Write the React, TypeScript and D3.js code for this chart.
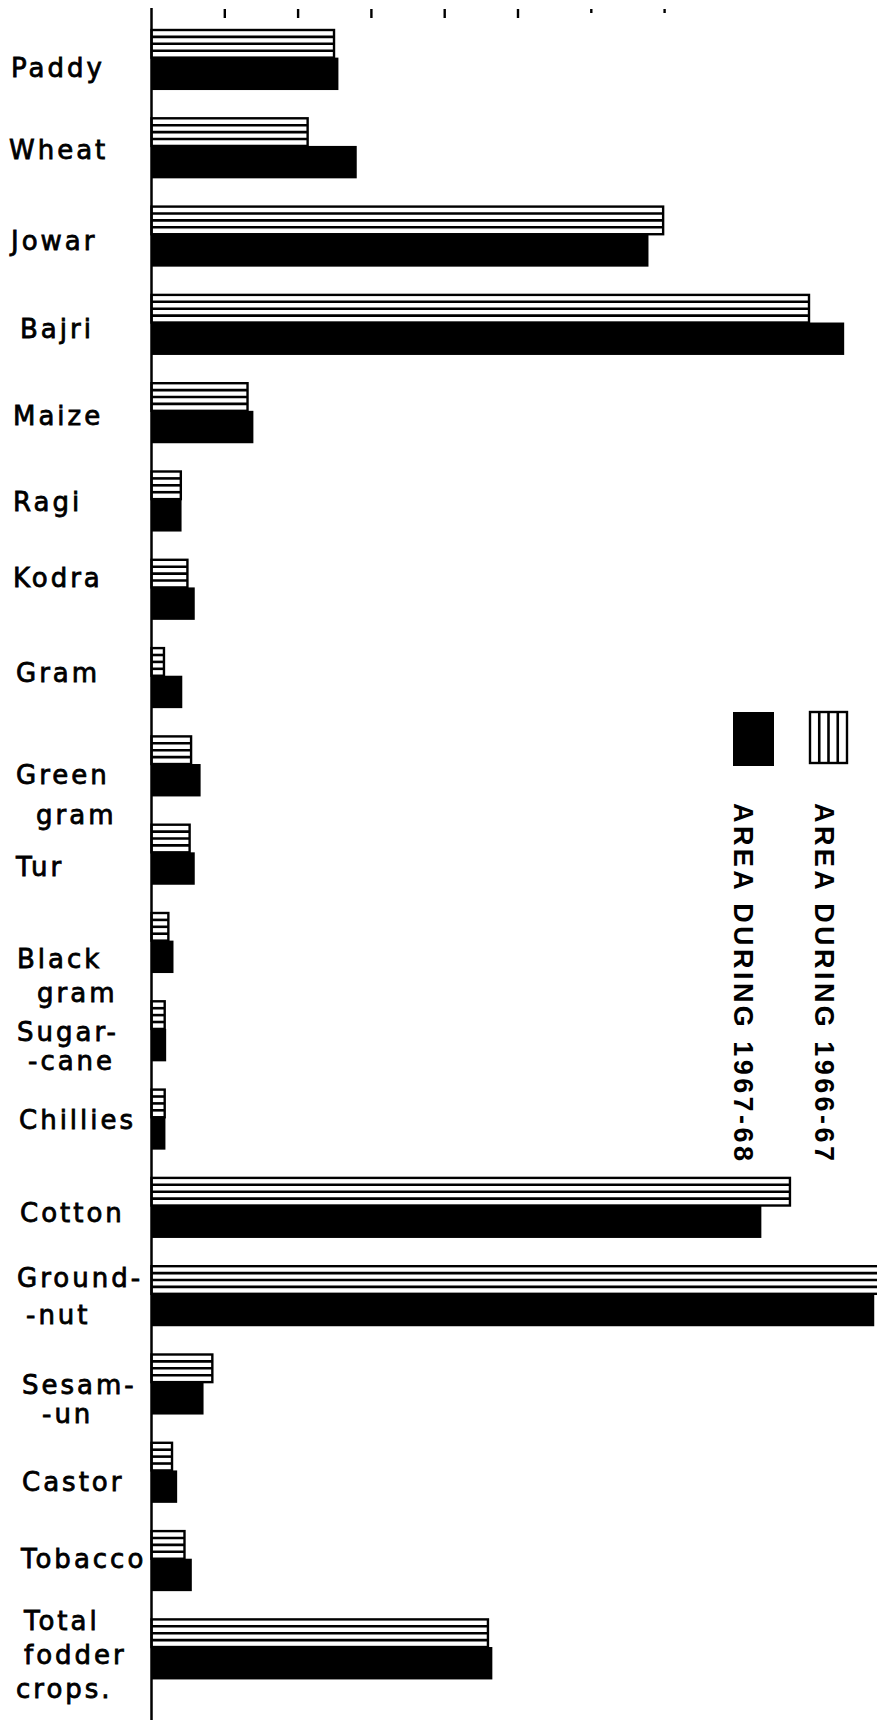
import React, { useEffect, useRef } from 'react';
import * as d3 from 'd3';

// crops, top to bottom
const crops = [
  'Paddy', 'Wheat', 'Jowar', 'Bajri', 'Maize', 'Ragi', 'Kodra', 'Gram',
  'Green gram', 'Tur', 'Black gram', 'Sugarcane', 'Chillies', 'Cotton',
  'Groundnut', 'Sesamum', 'Castor', 'Tobacco', 'Total fodder crops',
];

// how the names are lettered on the sheet
const cropLabels = [
  ['Paddy'], ['Wheat'], ['Jowar'], ['Bajri'], ['Maize'], ['Ragi'], ['Kodra'], ['Gram'],
  ['Green', 'gram'], ['Tur'], ['Black', 'gram'], ['Sugar-', '-cane'], ['Chillies'], ['Cotton'],
  ['Ground-', '-nut'], ['Sesam-', '-un'], ['Castor'], ['Tobacco'], ['Total', 'fodder', 'crops.'],
];

// area, in divisions of the top scale
const area1966 = [2.49, 2.13, 6.98, 8.97, 1.31, 0.40, 0.49, 0.17, 0.54, 0.52, 0.23, 0.18, 0.18, 8.71, 9.92, 0.83, 0.28, 0.45, 4.59];
const area1967 = [2.55, 2.80, 6.78, 9.45, 1.39, 0.41, 0.59, 0.42, 0.67, 0.59, 0.30, 0.20, 0.19, 8.32, 9.86, 0.71, 0.35, 0.55, 4.65];

const tickValues = [1, 2, 3, 4, 5, 6, 7];
const legendLabels = ['AREA  DURING  1966-67', 'AREA  DURING  1967-68'];

const App = () => {
  const chartRef = useRef<SVGSVGElement>(null);

  useEffect(() => {
    const svg = d3.select(chartRef.current);
    svg.selectAll('*').remove();

    const x = d3.scaleLinear().domain([0, 10]).range([151.5, 151.5 + 733]);
    const step = 88.3;
    const y = d3.scaleBand()
      .domain(crops)
      .range([30, 30 + step * (crops.length - 0.32)])
      .paddingInner(0.32)
      .paddingOuter(0);
    const bw = y.bandwidth();
    const hH = bw * 0.46; // hatched part of each pair

    const rows = crops.map((c, i) => ({ crop: c, a: area1966[i], b: area1967[i], label: cropLabels[i] }));

    // hand-lettered names sit a bit off the bar centres
    const nudge: Record<string, { dy: number; x?: number; lh?: number; ind?: number[] }> = {
      'Paddy': { dy: 8, x: 11 }, 'Wheat': { dy: 2, x: 9 }, 'Jowar': { dy: 4, x: 11 }, 'Bajri': { dy: 4, x: 20 },
      'Maize': { dy: 3 }, 'Ragi': { dy: 0 }, 'Kodra': { dy: -12 }, 'Gram': { dy: -5, x: 16 },
      'Green gram': { dy: 9, x: 16, lh: 40, ind: [0, 20] }, 'Tur': { dy: 12, x: 16 },
      'Black gram': { dy: 16, x: 17, lh: 34, ind: [0, 20] },
      'Sugarcane': { dy: 1, x: 17, lh: 29, ind: [0, 11] }, 'Chillies': { dy: 0, x: 19 }, 'Cotton': { dy: 5, x: 20 },
      'Groundnut': { dy: -18, x: 17, lh: 37, ind: [0, 9] }, 'Sesamum': { dy: 0, x: 22, lh: 29, ind: [0, 20] },
      'Castor': { dy: 9, x: 22 },
      'Tobacco': { dy: -2, x: 21 }, 'Total fodder crops': { dy: -28, x: 24, lh: 34, ind: [0, 0, -8] },
    };

    // hatched bars (1966-67)
    const hatch = svg.append('g').selectAll('g').data(rows).join('g');
    hatch.append('rect')
      .attr('x', x(0))
      .attr('y', d => y(d.crop)!)
      .attr('width', d => x(d.a) - x(0))
      .attr('height', hH)
      .attr('fill', '#fff')
      .attr('stroke', '#000')
      .attr('stroke-width', 2.4);
    hatch.selectAll('line')
      .data(d => [1, 2, 3].map(k => ({ d, k })))
      .join('line')
      .attr('x1', x(0))
      .attr('x2', p => x(p.d.a))
      .attr('y1', p => y(p.d.crop)! + (hH * p.k) / 4)
      .attr('y2', p => y(p.d.crop)! + (hH * p.k) / 4)
      .attr('stroke', '#000')
      .attr('stroke-width', 2.6);

    // solid bars (1967-68)
    svg.append('g').selectAll('rect').data(rows).join('rect')
      .attr('x', x(0))
      .attr('y', d => y(d.crop)! + hH)
      .attr('width', d => x(d.b) - x(0))
      .attr('height', bw - hH)
      .attr('fill', '#000');

    // axis and the little ticks along the top
    svg.append('line')
      .attr('x1', x(0)).attr('x2', x(0))
      .attr('y1', 8).attr('y2', 1720)
      .attr('stroke', '#000').attr('stroke-width', 2.5);
    svg.append('g').selectAll('line').data(tickValues).join('line')
      .attr('x1', d => x(d)).attr('x2', d => x(d))
      .attr('y1', 9).attr('y2', d => (d > 5 ? 13 : 18))
      .attr('stroke', '#000').attr('stroke-width', 2.4);

    // crop names
    const lab = svg.append('g')
      .attr('font-family', '"DejaVu Sans", sans-serif')
      .attr('font-size', 26)
      .attr('letter-spacing', 3)
      .attr('fill', '#000')
      .attr('stroke', '#000')
      .attr('stroke-width', 0.8);
    rows.forEach(r => {
      const n = nudge[r.crop] || { dy: 0 };
      const cy = y(r.crop)! + bw / 2 + n.dy;
      const x0 = n.x ?? 13;
      const lh = n.lh ?? 33;
      r.label.forEach((t, i) => {
        lab.append('text')
          .attr('x', x0 + (n.ind ? n.ind[i] : 0))
          .attr('y', cy + i * lh)
          .attr('dominant-baseline', 'central')
          .text(t);
      });
    });

    // legend, written sideways
    const leg = svg.append('g');
    leg.append('rect').attr('x', 733).attr('y', 712).attr('width', 41).attr('height', 54).attr('fill', '#000');
    leg.append('rect').attr('x', 810).attr('y', 712).attr('width', 37).attr('height', 51)
      .attr('fill', '#fff').attr('stroke', '#000').attr('stroke-width', 2.4);
    leg.selectAll('line.v').data([1, 2, 3]).join('line')
      .attr('x1', k => 810 + (37 * k) / 4).attr('x2', k => 810 + (37 * k) / 4)
      .attr('y1', 712).attr('y2', 763)
      .attr('stroke', '#000').attr('stroke-width', 2.6);
    [815, 734].forEach((bx, i) => {
      leg.append('text')
        .attr('transform', `translate(${bx},803) rotate(90)`)
        .attr('font-family', '"Liberation Sans", Arial, sans-serif')
        .attr('font-weight', 'bold')
        .attr('font-size', 27)
        .attr('textLength', 358)
        .attr('lengthAdjust', 'spacing')
        .attr('fill', '#000')
        .text(legendLabels[i]);
    });
  }, []);

  return (
    <svg
      ref={chartRef}
      width={877}
      height={1720}
      style={{ position: 'absolute', left: 0, top: 0, background: '#fff' }}
    />
  );
};

export default App;
